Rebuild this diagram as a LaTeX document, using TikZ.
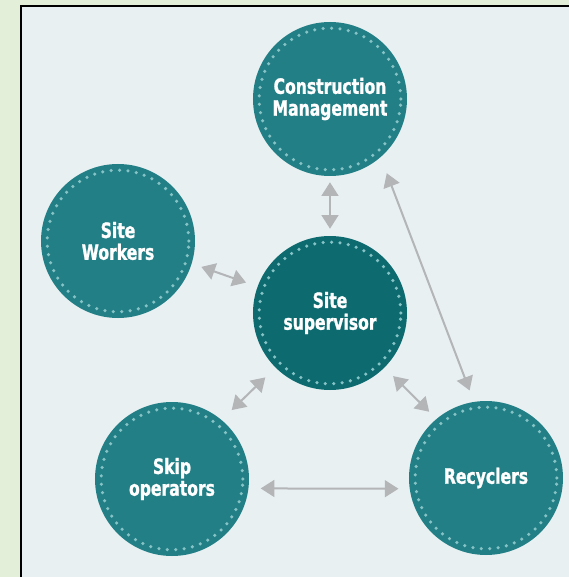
\documentclass[tikz,border=0pt]{standalone}
\usepackage{fontspec}
\setmainfont{DejaVu Sans}[FakeStretch=0.74, FakeBold=1.2]
\usetikzlibrary{arrows.meta}
\definecolor{tealnode}{HTML}{237F86}
\definecolor{tealhub}{HTML}{0D6B70}
\definecolor{ringdot}{HTML}{86C3C6}
\definecolor{panel}{HTML}{E8F0F2}
\definecolor{outside}{HTML}{E3EFD8}
\definecolor{linkgray}{HTML}{B3B5B7}
\tikzstyle{party} = [circle, 
minimum size=3.85cm, 
inner sep=0pt,
fill=tealnode, 
text=white, 
align=center,
font=\fontsize{15}{15.5}\selectfont\bfseries,
path picture={\draw[ringdot, line width=2.5pt, dash pattern=on 0pt off 6pt, line cap=round] (path picture bounding box.center) circle (1.77cm);}]
\tikzstyle{hub} = [party, 
fill=tealhub]
\tikzstyle{arrow} = [<->, >={Triangle[width=0.42cm,length=0.34cm]}, line width=0.05cm, draw=linkgray]

\begin{document}
\begin{tikzpicture}[node distance=5.35cm]
\useasboundingbox (-8.25,7.825) rectangle (5.975,-6.6);
\clip (-8.25,7.825) rectangle (5.975,-6.6);
\fill [outside] (-8.25,7.825) rectangle (5.975,-6.6);
\draw [line width=0.07cm, fill=panel] (-7.725,7.675) rectangle (6.5,-7.2);

\node (super) [hub] {Site\\supervisor};

\node (mgmt) [party, above of=super] {Construction\\Management};

\node (workers) [party, left of=super, xshift=0.05cm, yshift=1.8cm] {Site\\Workers};

\node (skip) [party, below of=super, xshift=-3.95cm, yshift=1.2cm] {Skip\\operators};

\node (recyc) [party, below of=super, xshift=3.9cm, yshift=1.225cm] {Recyclers};

\draw [arrow, shorten <=0.15cm, shorten >=0.175cm] (mgmt) -- (super);
\draw [arrow, shorten <=0.425cm, shorten >=0.3cm] (mgmt.-49) -- (recyc.99);
\draw [arrow, shorten <=0.25cm, shorten >=0.3cm] (workers.-17) -- (super.160);
\draw [arrow, shorten <=0.35cm, shorten >=0.35cm] (super.-135) -- (skip.50);
\draw [arrow, shorten <=0.3cm, shorten >=0.25cm] (super.-45) -- (recyc.130);
\draw [arrow, shorten <=0.3cm, shorten >=0.275cm] (skip.-7) -- (recyc.-172);
\end{tikzpicture}
\end{document}
